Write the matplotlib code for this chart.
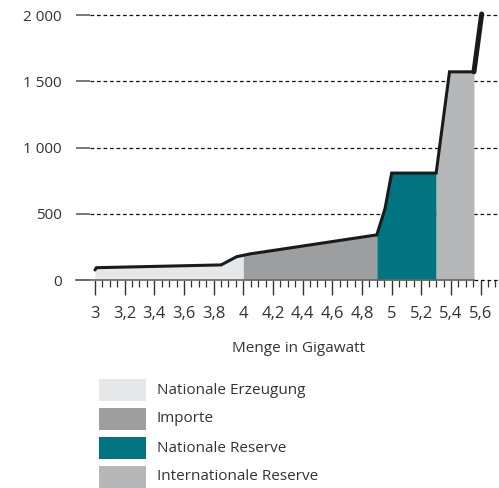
import numpy as np
import matplotlib.pyplot as plt
from matplotlib.patches import Rectangle
from matplotlib.ticker import FixedLocator, FuncFormatter

plt.rcParams['font.family'] = ['Open Sans', 'DejaVu Sans']

# Angebotskurve (Menge in GW, Preis)
menge = [3.0, 3.01, 3.85, 3.955, 4.045, 4.9, 4.955, 5.0, 5.3, 5.39, 5.555, 5.607]
preis = [76, 93, 114, 176, 197, 341, 538, 808, 808, 1573, 1573, 2010]

# Bereiche: (Start, Ende, Farbe, Bezeichnung)
grenzen = [3.0, 4.0, 4.9, 5.3, 5.555]
farben = ['#e6e7e8', '#9d9ea0', '#007480', '#b6b7b9']
namen = ['Nationale Erzeugung', 'Importe', 'Nationale Reserve', 'Internationale Reserve']

y_ticks = [0, 500, 1000, 1500, 2000]
x_ticks = [3.0, 3.2, 3.4, 3.6, 3.8, 4.0, 4.2, 4.4, 4.6, 4.8, 5.0, 5.2, 5.4, 5.6]
x_labels = ['3', '3,2', '3,4', '3,6', '3,8', '4', '4,2', '4,4', '4,6', '4,8',
            '5', '5,2', '5,4', '5,6']

fig = plt.figure(figsize=(4.99, 4.88), dpi=100)
W, H = 499, 488
ax = fig.add_axes([76 / W, 1 - 280 / H, (498 - 76) / W, (280 - 8.7) / H])

x_links, x_rechts = 2.872, 5.717
ax.set_xlim(x_links, x_rechts)
ax.set_ylim(0, 2050)

# Flächen
for i in range(len(farben)):
    a, b = grenzen[i], grenzen[i + 1]
    xs = [a] + [m for m in menge if a < m < b] + [b]
    ys = np.interp(xs, menge, preis)
    ax.fill_between(xs, 0, ys, color=farben[i], lw=0, zorder=2)

# Kurve
ax.plot(menge[:-1], preis[:-1], color='#1a1a1a', lw=2.2, zorder=4,
        solid_joinstyle='miter', solid_capstyle='round')
ax.plot(menge[-2:], preis[-2:], color='#1a1a1a', lw=3.6, zorder=4,
        solid_capstyle='round', clip_on=False)

# Gitterlinien
gx0 = x_links + 14 / 148.3
for y in y_ticks[1:]:
    ax.plot([gx0, x_rechts], [y, y], color='#111111', lw=0.9,
            ls=(0, (3, 2.2)), zorder=1, clip_on=False)
ax.plot([grenzen[-1], x_rechts], [0, 0], color='#111111', lw=0.9,
        ls=(0, (3, 2.2)), zorder=5, clip_on=False)

for s in ['top', 'right', 'left']:
    ax.spines[s].set_visible(False)
ax.spines['bottom'].set_bounds(x_links, grenzen[-1])
ax.spines['bottom'].set_color('#666666')
ax.spines['bottom'].set_linewidth(1.2)
ax.spines['bottom'].set_zorder(3)

ax.set_yticks(y_ticks)
ax.yaxis.set_major_formatter(FuncFormatter(lambda v, p: f'{int(v):,}'.replace(',', ' ')))
ax.tick_params(axis='y', direction='in', length=10, width=1.4, color='#777777',
               labelsize=11, labelcolor='#333333', pad=10)

ax.set_xticks(x_ticks, x_labels)
minor = [3.0 + 0.05 * k for k in range(55) if k % 4 != 0]
ax.xaxis.set_minor_locator(FixedLocator(minor))
ax.tick_params(axis='x', which='major', direction='out', length=11, width=1.0,
               color='#333333', labelsize=12, labelcolor='#333333', pad=8)
ax.tick_params(axis='x', which='minor', direction='out', length=5, width=0.9,
               color='#333333')

fig.text(299 / W, 1 - 348 / H, 'Menge in Gigawatt', ha='center', va='center',
         fontsize=11, color='#333333')

# Legende
for i, (f, n) in enumerate(zip(farben, namen)):
    y0 = 379 + i * 29
    fig.patches.append(Rectangle((99 / W, 1 - (y0 + 22) / H), 47 / W, 22 / H,
                                 transform=fig.transFigure, color=f, lw=0))
    fig.text(157 / W, 1 - (y0 + 11) / H, n, ha='left', va='center',
             fontsize=11, color='#333333')

fig.savefig('out.png', dpi=100)
